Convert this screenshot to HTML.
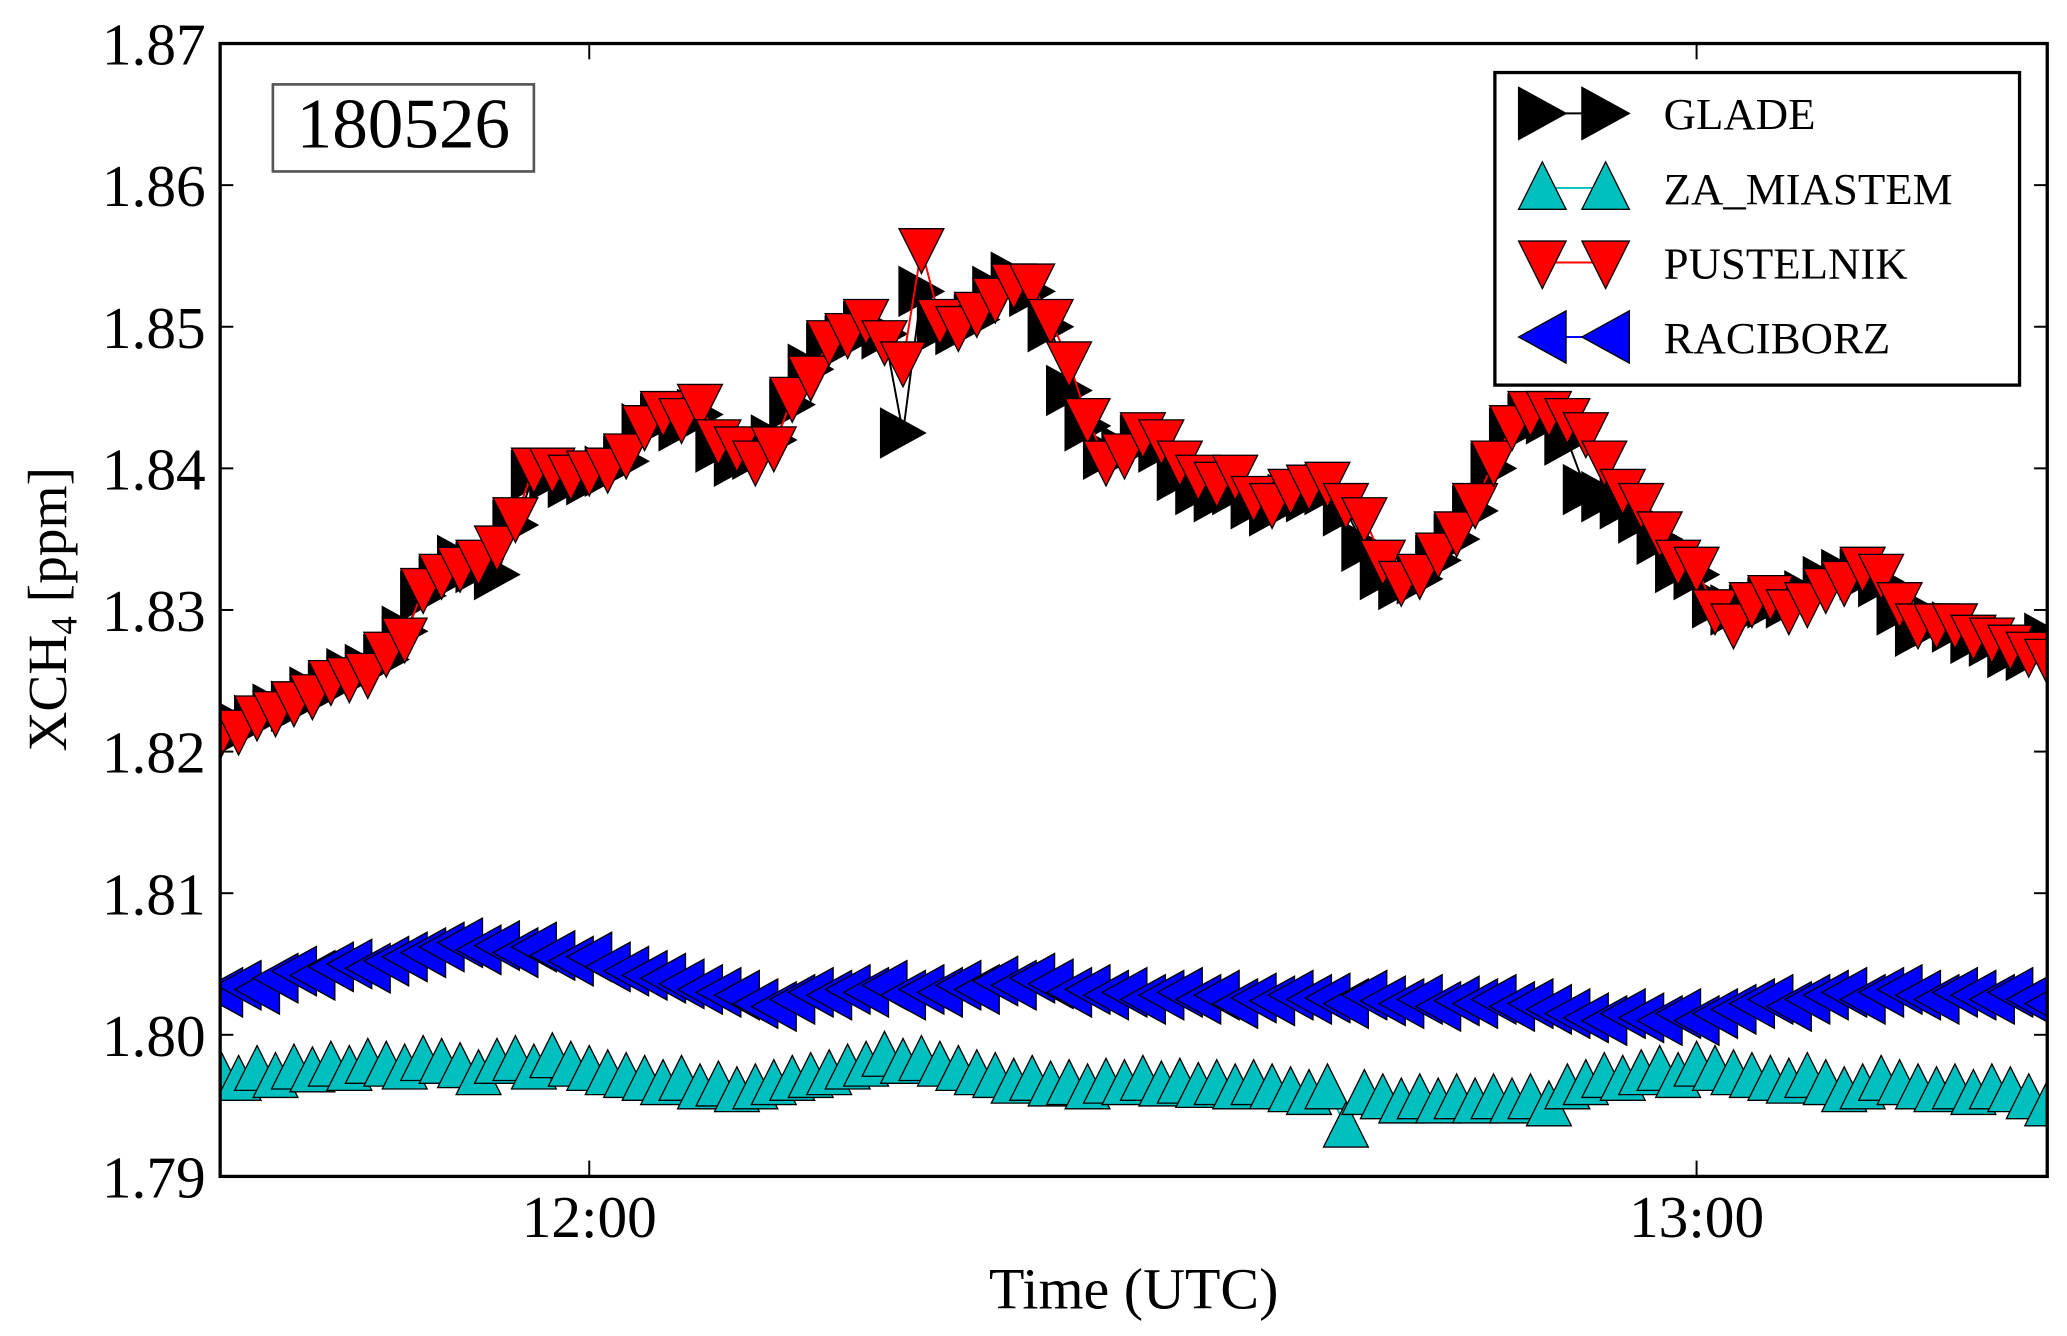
<!DOCTYPE html>
<html><head><meta charset="utf-8">
<style>
html,body{margin:0;padding:0;background:#fff;}
svg{display:block;font-family:"Liberation Serif",serif;}
</style></head>
<body>
<svg id="chart" width="2067" height="1336" viewBox="0 0 1568 1013" preserveAspectRatio="none" xmlns="http://www.w3.org/2000/svg">
<defs><clipPath id="plotclip"><rect x="167" y="33" width="1386" height="859"/></clipPath></defs>
<rect x="0" y="0" width="1568" height="1013" fill="#fff"/>
<g id="series" clip-path="url(#plotclip)"></g>
<rect x="167" y="33" width="1386" height="859" fill="none" stroke="#000" stroke-width="2.5"/>
<g id="axes"></g>
<rect x="207" y="64" width="198" height="66" fill="#fff" stroke="#555" stroke-width="2"/>
<text x="306" y="112" font-size="54" text-anchor="middle">180526</text>
<text x="860" y="992" font-size="44" text-anchor="middle">Time (UTC)</text>
<text transform="translate(50,462) rotate(-90)" font-size="42" text-anchor="middle">XCH<tspan font-size="28" dy="8">4</tspan><tspan dy="-8"> [ppm]</tspan></text>
<g id="legend">
<rect x="1134" y="55" width="398" height="237" fill="#fff" stroke="#000" stroke-width="2.5"/>
</g>
</svg>
<script>
// time in minutes after 11:40 UTC
const times = [];
for (let i = 0; i < 100; i++) times.push(i);
const xTickLabels = ["12:00", "13:00"];
const xTickMinutes = [20, 80];
const yTicks = [1.79, 1.80, 1.81, 1.82, 1.83, 1.84, 1.85, 1.86, 1.87];
const yTickLabels = ["1.79", "1.80", "1.81", "1.82", "1.83", "1.84", "1.85", "1.86", "1.87"];
const seriesNames = ["GLADE", "ZA_MIASTEM", "PUSTELNIK", "RACIBORZ"];

const pustelnik = [1.8212,1.8215,1.8225,1.8228,1.8235,1.8240,1.8250,1.8252,1.8255,1.8270,
1.8280,1.8315,1.8325,1.8330,1.8335,1.8345,1.8365,1.8400,1.8400,1.8395,
1.8398,1.8400,1.8410,1.8430,1.8440,1.8435,1.8445,1.8420,1.8415,1.8405,
1.8415,1.8450,1.8465,1.8490,1.8495,1.8505,1.8490,1.8475,1.8555,1.8505,
1.8500,1.8510,1.8520,1.8530,1.8530,1.8505,1.8475,1.8435,1.8405,1.8410,
1.8425,1.8420,1.8405,1.8395,1.8390,1.8395,1.8380,1.8375,1.8385,1.8388,
1.8390,1.8375,1.8365,1.8335,1.8320,1.8325,1.8340,1.8355,1.8375,1.8405,
1.8430,1.8440,1.8440,1.8435,1.8425,1.8405,1.8385,1.8375,1.8355,1.8335,
1.8330,1.8300,1.8290,1.8305,1.8310,1.8300,1.8305,1.8315,1.8320,1.8330,
1.8325,1.8305,1.8290,1.8290,1.8290,1.8282,1.8280,1.8275,1.8270,1.8265];
const glade = [1.8208,1.8218,1.8222,1.8230,1.8232,1.8242,1.8245,1.8255,1.8258,1.8265,
1.8285,1.8310,1.8320,1.8335,1.8330,1.8325,1.8360,1.8395,1.8395,1.8390,
1.8392,1.8398,1.8405,1.8428,1.8435,1.8430,1.8438,1.8415,1.8405,1.8410,
1.8420,1.8445,1.8470,1.8485,1.8490,1.8500,1.8495,1.8425,1.8525,1.8500,
1.8498,1.8505,1.8525,1.8535,1.8525,1.8500,1.8455,1.8430,1.8410,1.8412,
1.8420,1.8415,1.8395,1.8385,1.8380,1.8385,1.8375,1.8370,1.8378,1.8380,
1.8385,1.8370,1.8345,1.8325,1.8318,1.8322,1.8335,1.8350,1.8370,1.8400,
1.8425,1.8435,1.8435,1.8420,1.8385,1.8380,1.8375,1.8365,1.8350,1.8330,
1.8325,1.8305,1.8300,1.8300,1.8305,1.8305,1.8310,1.8320,1.8325,1.8325,
1.8320,1.8300,1.8285,1.8292,1.8288,1.8280,1.8278,1.8270,1.8268,1.8280];
const raciborz = [1.8030,1.8035,1.8032,1.8040,1.8045,1.8042,1.8048,1.8050,1.8047,1.8052,
1.8055,1.8058,1.8062,1.8065,1.8060,1.8063,1.8058,1.8062,1.8056,1.8052,
1.8055,1.8048,1.8045,1.8042,1.8040,1.8036,1.8032,1.8030,1.8028,1.8022,
1.8020,1.8025,1.8030,1.8028,1.8032,1.8030,1.8035,1.8028,1.8032,1.8030,
1.8035,1.8032,1.8038,1.8035,1.8040,1.8036,1.8030,1.8032,1.8028,1.8030,
1.8025,1.8028,1.8030,1.8025,1.8028,1.8022,1.8026,1.8024,1.8028,1.8025,
1.8026,1.8022,1.8028,1.8024,1.8022,1.8025,1.8020,1.8024,1.8022,1.8025,
1.8020,1.8022,1.8018,1.8015,1.8012,1.8010,1.8015,1.8012,1.8010,1.8015,
1.8010,1.8015,1.8018,1.8022,1.8025,1.8020,1.8025,1.8028,1.8030,1.8025,
1.8030,1.8032,1.8028,1.8025,1.8030,1.8028,1.8025,1.8030,1.8025,1.8022];
const zaMiastem = [1.7972,1.7968,1.7975,1.7970,1.7976,1.7974,1.7978,1.7975,1.7980,1.7978,
1.7976,1.7982,1.7980,1.7977,1.7972,1.7980,1.7982,1.7976,1.7984,1.7978,
1.7975,1.7972,1.7970,1.7968,1.7965,1.7968,1.7962,1.7964,1.7960,1.7962,
1.7965,1.7968,1.7970,1.7972,1.7976,1.7978,1.7985,1.7980,1.7982,1.7978,
1.7975,1.7972,1.7970,1.7966,1.7968,1.7964,1.7965,1.7962,1.7966,1.7965,
1.7968,1.7964,1.7966,1.7963,1.7965,1.7962,1.7965,1.7962,1.7960,1.7958,
1.7962,1.7935,1.7958,1.7955,1.7952,1.7955,1.7952,1.7955,1.7952,1.7955,
1.7952,1.7955,1.7950,1.7962,1.7965,1.7970,1.7968,1.7972,1.7975,1.7970,
1.7978,1.7975,1.7972,1.7970,1.7968,1.7966,1.7970,1.7965,1.7960,1.7962,
1.7968,1.7965,1.7962,1.7960,1.7962,1.7958,1.7962,1.7960,1.7955,1.7950];

const NS = "http://www.w3.org/2000/svg";
const X0 = 167, X1 = 1553, Y0 = 892, Y1 = 33;
const tMin = 0, tMax = 99, vMin = 1.79, vMax = 1.87;
function xScale(t){ return X0 + (t - tMin) / (tMax - tMin) * (X1 - X0); }
function yScale(v){ return Y0 - (v - vMin) / (vMax - vMin) * (Y0 - Y1); }
function mk(tag, attrs, parent){ const e = document.createElementNS(NS, tag); for (const k in attrs) e.setAttribute(k, attrs[k]); parent.appendChild(e); return e; }

function markerPoints(kind, x, y, s){
  if (kind === "right") return `${x-s*0.5},${y-s*0.55} ${x+s*0.5},${y} ${x-s*0.5},${y+s*0.55}`;
  if (kind === "left") return `${x+s*0.5},${y-s*0.55} ${x-s*0.5},${y} ${x+s*0.5},${y+s*0.55}`;
  if (kind === "up") return `${x},${y-s*0.55} ${x+s*0.5},${y+s*0.45} ${x-s*0.5},${y+s*0.45}`;
  return `${x-s*0.5},${y-s*0.45} ${x+s*0.5},${y-s*0.45} ${x},${y+s*0.55}`;
}

const seriesDefs = [
  {data: glade, color: "#000000", kind: "right", name: "glade"},
  {data: zaMiastem, color: "#00bfbf", kind: "up", name: "za-miastem"},
  {data: pustelnik, color: "#ff0000", kind: "down", name: "pustelnik"},
  {data: raciborz, color: "#0000ff", kind: "left", name: "raciborz"}
];
const g = document.getElementById("series");
const S = 34;
seriesDefs.forEach(sd => {
  const grp = mk("g", {}, g);
  
  
  const pts = sd.data.map((v,i) => xScale(times[i]) + "," + yScale(v)).join(" ");
  const line = mk("polyline", {points: pts, fill: "none", stroke: sd.color, "stroke-width": 1.5}, grp);
  
  
  sd.data.forEach((v,i) => {
    const m = mk("polygon", {points: markerPoints(sd.kind, xScale(times[i]), yScale(v), S), fill: sd.color, stroke: "#000", "stroke-width": 1}, grp);
    
    
  });
});

const ax = document.getElementById("axes");
yTicks.forEach((v,i) => {
  const y = yScale(v);
  const t1 = mk("line", {x1: X0, x2: X0+10, y1: y, y2: y, stroke: "#000", "stroke-width": 1.5}, ax);
  
  
  const t2 = mk("line", {x1: X1-10, x2: X1, y1: y, y2: y, stroke: "#000", "stroke-width": 1.5}, ax);
  
  
  const lb = mk("text", {x: 156, y: y + 16, "font-size": 45, "text-anchor": "end"}, ax);
  lb.textContent = yTickLabels[i];
  
  
});
xTickMinutes.forEach((t,i) => {
  const x = xScale(t);
  const a = mk("line", {x1: x, x2: x, y1: Y0, y2: Y0-12, stroke: "#000", "stroke-width": 1.5}, ax);
  
  
  const b = mk("line", {x1: x, x2: x, y1: Y1, y2: Y1+12, stroke: "#000", "stroke-width": 1.5}, ax);
  
  
  const lb = mk("text", {x: x, y: 938, "font-size": 45, "text-anchor": "middle"}, ax);
  lb.textContent = xTickLabels[i];
  
  
});

const lg = document.getElementById("legend");
seriesDefs.forEach((sd,i) => {
  const y = 86 + i * 56.5;
  const ent = mk("g", {}, lg);
  
  
  mk("line", {x1: 1170, x2: 1218, y1: y, y2: y, stroke: sd.color, "stroke-width": 1.5}, ent);
  mk("polygon", {points: markerPoints(sd.kind, 1170, y, 36), fill: sd.color, stroke: "#000", "stroke-width": 1}, ent);
  mk("polygon", {points: markerPoints(sd.kind, 1218, y, 36), fill: sd.color, stroke: "#000", "stroke-width": 1}, ent);
  const t = mk("text", {x: 1262, y: y + 12, "font-size": 34}, ent);
  t.textContent = seriesNames[i];
});
</script>
</body></html>
